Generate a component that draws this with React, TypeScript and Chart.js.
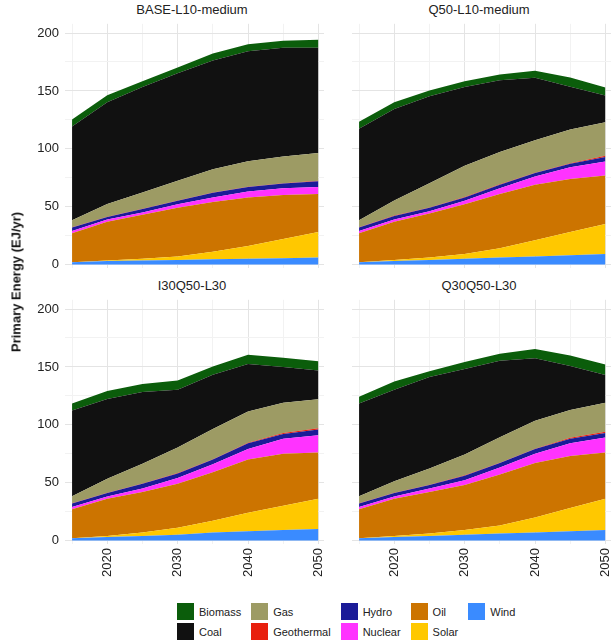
import React, { useRef, useEffect } from 'react';
import Chart from 'chart.js/auto';

const years = [2015, 2020, 2025, 2030, 2035, 2040, 2045, 2050];
const panelTitles = ['BASE-L10-medium', 'Q50-L10-medium', 'I30Q50-L30', 'Q30Q50-L30'];
const sources = ['Wind', 'Solar', 'Oil', 'Nuclear', 'Hydro', 'Geothermal', 'Gas', 'Coal', 'Biomass'];
const colors: Record<string, string> = {
    Biomass: '#0b5d0b', Coal: '#111111', Gas: '#9d9b64', Geothermal: '#e8200e', Hydro: '#1b1b98',
    Nuclear: '#ff33ff', Oil: '#cc7400', Solar: '#ffc800', Wind: '#3a8bff',
};

// values per panel, in stacking order (Wind at the bottom)
const baseL10 = {
    Wind: [2, 3, 3.5, 4, 4.5, 5, 5.5, 6],
    Solar: [0, 0.5, 1.5, 3, 6.5, 11, 16.5, 22],
    Oil: [25, 33.5, 38, 42, 43, 42, 38, 33],
    Nuclear: [2, 2, 2, 3, 4, 5, 6, 6],
    Hydro: [3, 2, 3, 3, 4, 4, 4, 5],
    Geothermal: [0.3, 0.3, 0.3, 0.3, 0.3, 0.3, 0.3, 0.3],
    Gas: [6, 11, 14, 17, 20, 22, 23, 24],
    Coal: [81, 88, 91, 93, 94, 95, 94, 91],
    Biomass: [6, 6, 5, 5, 6, 6, 6, 7],
};
const q50L10 = {
    Wind: [2, 3, 4, 5, 6, 7, 8, 9],
    Solar: [0, 1, 2, 4, 8, 14, 20, 26],
    Oil: [25, 33, 38, 43, 47, 48, 46, 42],
    Nuclear: [2, 2, 2, 3, 5, 7, 10, 12],
    Hydro: [3, 3, 3, 3, 3, 3, 3, 4],
    Geothermal: [0.3, 0.3, 0.3, 0.3, 0.3, 0.4, 0.6, 1],
    Gas: [6, 13, 21, 27, 28, 28, 29, 29],
    Coal: [79, 79, 75, 68, 62, 54, 37, 23],
    Biomass: [6, 6, 5, 5, 5, 6, 8, 7],
};
const i30q50L30 = {
    Wind: [2, 3, 4, 5, 7, 8, 9, 10],
    Solar: [0, 1, 3, 6, 10, 16, 21, 26],
    Oil: [25, 32, 35, 38, 42, 46, 45, 40],
    Nuclear: [2, 2, 3, 5, 7, 9, 13, 15],
    Hydro: [3, 3, 4, 4, 4, 5, 4, 5],
    Geothermal: [0.3, 0.3, 0.3, 0.3, 0.3, 0.5, 1, 1],
    Gas: [6, 12, 17, 22, 26, 27, 26, 25],
    Coal: [74, 69, 62, 50, 47, 41, 31, 25],
    Biomass: [6, 7, 7, 8, 7, 8, 8, 8],
};
const q30q50L30 = {
    Wind: [2, 3, 4, 5, 6, 7, 8, 9],
    Solar: [0, 1, 2, 4, 7, 13, 20, 27],
    Oil: [25, 32, 36, 39, 44, 47, 45, 40],
    Nuclear: [2, 2, 3, 4, 6, 8, 11, 13],
    Hydro: [3, 3, 3, 4, 4, 4, 4, 4],
    Geothermal: [0.3, 0.3, 0.3, 0.3, 0.3, 0.4, 0.8, 1],
    Gas: [6, 10, 14, 18, 22, 24, 24, 25],
    Coal: [80, 79, 79, 74, 66, 54, 38, 24],
    Biomass: [6, 7, 5, 6, 6, 8, 9, 9],
};
const panelData: Record<string, number[]>[] = [baseL10, q50L10, i30q50L30, q30q50L30];
const legendCols = [['Biomass', 'Coal'], ['Gas', 'Geothermal'], ['Hydro', 'Nuclear'], ['Oil', 'Solar'], ['Wind']];

const font = "'Liberation Sans', Arial, sans-serif";
const CW = 316;
const CH = 300;

const Panel: React.FC<{ idx: number; left: number; top: number }> = ({ idx, left, top }) => {
    const ref = useRef<HTMLCanvasElement>(null);
    const showY = idx % 2 === 0;
    const showX = idx >= 2;
    useEffect(() => {
        const ctx = ref.current?.getContext('2d');
        if (!ctx) return;
        const d = panelData[idx];
        const chart = new Chart(ctx, {
            type: 'line',
            data: {
                datasets: sources.map((s, i) => ({
                    label: s,
                    data: years.map((y, j) => ({ x: y, y: d[s][j] })),
                    backgroundColor: colors[s],
                    borderWidth: 0,
                    pointRadius: 0,
                    fill: i === 0 ? 'origin' : '-1',
                    tension: 0,
                })),
            },
            options: {
                animation: false,
                responsive: false,
                layout: { padding: { top: 10, right: 0, left: 0, bottom: 0 } },
                plugins: { legend: { display: false }, tooltip: { enabled: false } },
                scales: {
                    x: {
                        type: 'linear', min: 2014, max: 2050.8,
                        afterBuildTicks: (s: any) => { s.ticks = [2015, 2020, 2025, 2030, 2035, 2040, 2045, 2050].map(v => ({ value: v })); },
                        afterFit: (s: any) => { s.height = 42; },
                        border: { display: false },
                        grid: { color: (c: any) => (c.tick && c.tick.value % 10 === 0 ? '#e4e4e4' : '#f2f2f2'), drawTicks: false },
                        ticks: {
                            maxRotation: 90, minRotation: 90, padding: 4,
                            color: showX ? '#222' : 'rgba(0,0,0,0)', font: { family: font, size: 13 },
                            callback: (v: any) => (v % 10 === 0 ? String(v) : ''),
                        },
                    },
                    y: {
                        stacked: true, min: -3, max: 208,
                        afterBuildTicks: (s: any) => { s.ticks = [0, 25, 50, 75, 100, 125, 150, 175, 200].map(v => ({ value: v })); },
                        afterFit: (s: any) => { s.width = 43; },
                        border: { display: false },
                        grid: { color: (c: any) => (c.tick && c.tick.value % 50 === 0 ? '#e4e4e4' : '#f2f2f2'), drawTicks: false },
                        ticks: {
                            padding: 6, color: showY ? '#222' : 'rgba(0,0,0,0)', font: { family: font, size: 13 },
                            callback: (v: any) => (v % 50 === 0 ? String(v) : ''),
                        },
                    },
                },
            },
        });
        return () => chart.destroy();
    }, [idx]);
    return (
        <>
            <div style={{ position: 'absolute', left: left + 43, top: top - 20, width: 254, textAlign: 'center', fontFamily: font, fontSize: 13, color: '#222' }}>
                {panelTitles[idx]}
            </div>
            <canvas ref={ref} width={CW} height={CH} style={{ position: 'absolute', left, top: top - 12, width: CW, height: CH }} />
        </>
    );
};

const App: React.FC = () => {
    useEffect(() => { document.body.style.margin = '0'; }, []);
    return (
        <div style={{ position: 'relative', width: 613, height: 643, background: '#fff', overflow: 'hidden' }}>
            <Panel idx={2} left={22} top={298} />
            <Panel idx={3} left={309} top={298} />
            <Panel idx={0} left={22} top={22} />
            <Panel idx={1} left={309} top={22} />
            <div style={{ position: 'absolute', left: 16, top: 282, transform: 'translate(-50%,-50%) rotate(-90deg)', whiteSpace: 'nowrap', fontFamily: font, fontSize: 13, fontWeight: 'bold', color: '#111' }}>
                Primary Energy (EJ/yr)
            </div>
            <div style={{ position: 'absolute', left: 177, top: 603, display: 'flex', gap: 6, fontFamily: font, fontSize: 11, color: '#222' }}>
                {legendCols.map((col, ci) => (
                    <div key={ci} style={{ display: 'flex', flexDirection: 'column', gap: 3, marginRight: 4 }}>
                        {col.map(s => (
                            <div key={s} style={{ display: 'flex', alignItems: 'center', height: 17 }}>
                                <span style={{ display: 'inline-block', width: 17, height: 17, background: colors[s], marginRight: 5 }} />
                                {s}
                            </div>
                        ))}
                    </div>
                ))}
            </div>
        </div>
    );
};

export default App;
